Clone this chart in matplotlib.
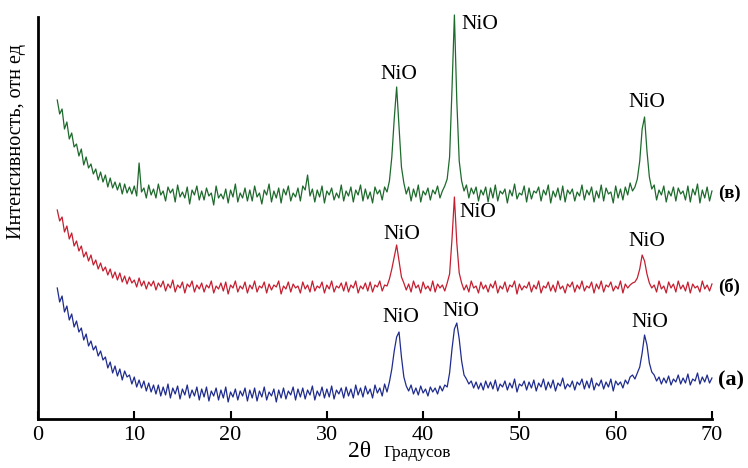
# XRD patterns of the three samples, stacked, with NiO reflections marked

import numpy as np
from matplotlib import pyplot as plt

plt.rcParams['font.family'] = ['Liberation Serif', 'DejaVu Serif']

# 2-theta grid, degrees (step 0.25)
two_theta = np.arange(2.0, 70.001, 0.25)

# Intensities, arbitrary units (traces are already offset vertically)
# (в) - top trace
intensity_v = [
    319, 305, 310, 290, 297, 280, 286, 272, 275, 263, 270, 254, 262, 251, 255, 245, 250, 239, 247, 237,
    244, 232, 241, 231, 237, 229, 236, 225, 235, 226, 232, 225, 233, 223, 256, 227, 231, 221, 234, 224,
    230, 221, 235, 224, 228, 218, 232, 226, 230, 217, 234, 222, 227, 221, 232, 215, 229, 224, 233, 219,
    228, 219, 231, 223, 226, 214, 233, 221, 225, 220, 230, 216, 229, 222, 235, 217, 226, 221, 231, 218,
    229, 218, 233, 222, 226, 215, 229, 224, 235, 217, 228, 221, 231, 216, 230, 224, 233, 218, 226, 222,
    231, 218, 233, 229, 244, 223, 230, 217, 229, 222, 233, 216, 228, 224, 231, 219, 226, 221, 234, 218,
    228, 223, 232, 217, 229, 224, 234, 218, 230, 220, 227, 216, 232, 225, 229, 219, 232, 227, 238, 262,
    300, 332, 292, 252, 236, 225, 232, 218, 230, 222, 234, 217, 228, 224, 231, 219, 229, 225, 233, 221,
    228, 233, 240, 262, 330, 404, 318, 258, 238, 228, 234, 221, 231, 225, 232, 218, 229, 224, 232, 217,
    231, 221, 234, 218, 228, 225, 230, 216, 229, 223, 235, 220, 226, 224, 233, 217, 231, 220, 228, 226,
    232, 218, 229, 224, 234, 216, 228, 222, 231, 219, 233, 217, 229, 225, 230, 218, 227, 223, 234, 219,
    229, 224, 232, 217, 228, 221, 234, 218, 231, 225, 227, 216, 233, 221, 230, 219, 232, 224, 236, 228,
    232, 240, 258, 290, 302, 268, 242, 230, 234, 219, 229, 224, 233, 217, 228, 223, 232, 218, 231, 225,
    228, 219, 233, 217, 230, 224, 235, 216, 229, 221, 232, 218, 228,
]

# (б) - middle trace
intensity_b = [
    209, 198, 202, 187, 193, 180, 186, 173, 178, 168, 173, 162, 167, 158, 164, 154, 159, 150, 156, 148,
    152, 144, 150, 141, 147, 139, 146, 137, 143, 135, 142, 136, 139, 132, 141, 133, 138, 130, 137, 133,
    138, 129, 136, 132, 138, 128, 135, 131, 139, 127, 134, 131, 137, 126, 135, 132, 138, 127, 134, 130,
    136, 127, 134, 131, 138, 126, 133, 130, 136, 128, 137, 125, 134, 131, 138, 127, 133, 130, 137, 126,
    134, 130, 138, 127, 133, 131, 137, 126, 135, 129, 134, 132, 138, 125, 133, 130, 137, 127, 135, 131,
    133, 126, 137, 130, 134, 127, 138, 128, 133, 131, 137, 126, 134, 130, 138, 127, 133, 131, 136, 128,
    137, 127, 134, 131, 138, 126, 133, 130, 136, 128, 137, 127, 134, 132, 138, 128, 134, 133, 140, 150,
    162, 174, 158, 142, 136, 129, 135, 127, 138, 131, 134, 126, 137, 130, 133, 128, 138, 127, 135, 131,
    134, 128, 136, 145, 180, 222, 176, 146, 136, 129, 134, 127, 138, 131, 133, 126, 137, 130, 134, 127,
    135, 131, 138, 126, 133, 130, 137, 127, 134, 132, 138, 125, 135, 129, 133, 131, 137, 127, 134, 130,
    138, 126, 133, 131, 137, 128, 134, 127, 138, 130, 133, 126, 135, 132, 137, 127, 134, 130, 138, 128,
    133, 131, 137, 126, 135, 130, 138, 127, 134, 132, 137, 128, 133, 130, 138, 126, 135, 131, 134, 136,
    137, 141, 150, 164, 158, 145, 136, 131, 134, 127, 138, 130, 133, 126, 137, 131, 135, 127, 138, 130,
    134, 128, 137, 126, 135, 131, 133, 127, 138, 130, 134, 128, 135,
]

# (а) - bottom trace
intensity_a = [
    131, 117, 123, 107, 113, 99, 105, 92, 98, 87, 91, 79, 85, 73, 78, 69, 73, 63, 68, 59,
    62, 51, 57, 46, 53, 43, 50, 39, 48, 42, 44, 35, 42, 32, 39, 31, 38, 28, 36, 27,
    34, 25, 34, 23, 32, 24, 35, 21, 31, 25, 33, 20, 30, 24, 34, 21, 29, 23, 32, 19,
    30, 22, 32, 18, 28, 23, 31, 19, 29, 21, 32, 17, 27, 22, 30, 19, 28, 23, 31, 18,
    29, 21, 31, 18, 28, 22, 32, 19, 27, 23, 30, 17, 29, 21, 31, 20, 28, 24, 32, 19,
    30, 22, 31, 20, 29, 24, 33, 19, 28, 23, 32, 21, 30, 22, 33, 20, 29, 25, 31, 21,
    32, 23, 30, 21, 34, 24, 31, 22, 33, 25, 30, 21, 34, 26, 31, 23, 35, 27, 37, 50,
    68, 82, 87, 62, 42, 33, 28, 34, 25, 31, 24, 33, 26, 30, 23, 32, 27, 31, 25, 33,
    28, 34, 32, 46, 70, 90, 96, 80, 58, 44, 40, 35, 38, 31, 37, 30, 36, 29, 38, 31,
    37, 30, 39, 28, 35, 32, 38, 29, 36, 31, 40, 27, 35, 33, 38, 29, 37, 31, 39, 28,
    36, 32, 40, 29, 37, 31, 39, 28, 36, 33, 41, 30, 35, 32, 38, 29, 37, 34, 40, 30,
    38, 31, 41, 29, 36, 33, 39, 30, 37, 32, 40, 28, 38, 34, 37, 31, 39, 35, 42, 44,
    40, 46, 52, 66, 84, 74, 56, 47, 44, 38, 42, 35, 41, 36, 43, 34, 40, 37, 44, 35,
    41, 36, 45, 34, 40, 38, 46, 35, 42, 37, 44, 36, 41,
]

# NiO reflections: (2theta, label height, alignment) for each trace
nio_labels_v = [(37.5, 344, "center"), (44.0, 394, "left"), (63.2, 316, "center")]
nio_labels_b = [(37.8, 184, "center"), (43.75, 206, "left"), (63.2, 177, "center")]
nio_labels_a = [(37.7, 101, "center"), (43.9, 107, "center"), (63.6, 96, "center")]

sample_names = ["(в)", "(б)", "(а)"]
sample_levels = [226, 132, 39]
sample_sizes = [13.5, 13.5, 16]

green = "#1d6a2c"
red = "#c41f31"
blue = "#1f2c8e"

fig = plt.figure(figsize=(7.48, 4.68), dpi=100)
ax = fig.add_axes([0.0508, 0.1047, 0.901, 0.859])

for y, c in [(intensity_v, green), (intensity_b, red), (intensity_a, blue)]:
    ax.plot(two_theta, y, color=c, linewidth=0.9, clip_on=False)

for labels in [nio_labels_v, nio_labels_b, nio_labels_a]:
    for x, h, align in labels:
        ax.text(x, h, "NiO", fontsize=15.5, ha=align, va="center")

for name, level, size in zip(sample_names, sample_levels, sample_sizes):
    ax.text(70.6, level, name, fontsize=size, fontweight="bold", ha="left", va="center")

ax.set_xlim(0, 70)
ax.set_ylim(0, 402)
ax.set_xticks(range(0, 71, 10))
ax.set_yticks([])
ax.tick_params(axis="x", direction="in", length=6, width=1.5, labelsize=16, pad=5)

for side in ["top", "right"]:
    ax.spines[side].set_visible(False)
for side in ["left", "bottom"]:
    ax.spines[side].set_linewidth(2)

ax.set_ylabel("Интенсивность, отн ед", fontsize=14.5)
ax.yaxis.set_label_coords(-0.018, 0.69)

fig.text(0.465, 0.012, "2θ", fontsize=17, ha="left", va="bottom")
fig.text(0.512, 0.016, "Градусов", fontsize=12.5, ha="left", va="bottom")

fig.savefig("out.png", dpi=100)
